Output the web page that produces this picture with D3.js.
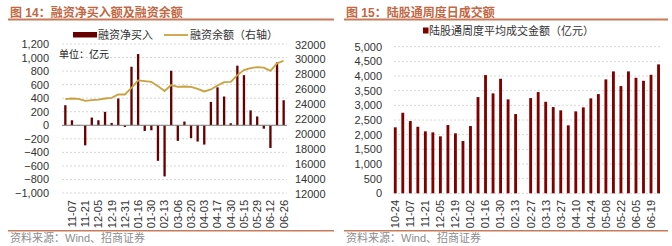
<!DOCTYPE html>
<html>
<head>
<meta charset="utf-8">
<script src="https://cdn.jsdelivr.net/npm/d3@7"></script>
<style>
  body { margin: 0; background: #fff; }
  svg { display: block; font-family: "Liberation Sans", Arial, "Noto Sans CJK SC", sans-serif; }
</style>
</head>
<body>
<svg id="chart" width="672" height="246"></svg>
<script>
// left: weekly margin financing
const weeksL = ['10-31', '11-07', '11-14', '11-21', '11-28', '12-05', '12-12', '12-19', '12-26', '12-31',
    '01-09', '01-16', '01-23', '01-30', '02-06', '02-13', '02-27', '03-06', '03-13', '03-20',
    '03-27', '04-03', '04-10', '04-17', '04-24', '04-30', '05-08', '05-15', '05-22', '05-29',
    '06-05', '06-12', '06-19', '06-26'];
const netBuy = [296, 74, 5, -296, 114, 74, 198, 35, 395, -25,
    864, 1052, -84, -74, -525, -755, 805, -230, 55, -190,
    -240, -285, 345, 560, 425, 30, 880, 740, 220, 130,
    -50, -335, 930, 370];
const balance = [24660, 24750, 24700, 24430, 24520, 24610, 24750, 24840, 25290, 25290,
    26180, 27180, 27090, 26990, 26410, 25760, 26550, 26320, 26360, 26320,
    26050, 25700, 25970, 26500, 26950, 26990, 27890, 28570, 28840, 28970,
    28900, 28470, 29470, 29820];
const leftTicks = [-1000, -800, -600, -400, -200, 0, 200, 400, 600, 800, 1000, 1200];
const rightTicks = [12000, 14000, 16000, 18000, 20000, 22000, 24000, 26000, 28000, 30000, 32000];

// right: weekly northbound turnover (02-20 has no data)
const weeksR = ['10-24', '10-31', '11-07', '11-14', '11-21', '11-28', '12-05', '12-12', '12-19', '12-26',
    '01-02', '01-09', '01-16', '01-23', '01-30', '02-06', '02-13', '02-20', '02-27', '03-06',
    '03-13', '03-20', '03-27', '04-03', '04-10', '04-17', '04-24', '05-01', '05-08', '05-15',
    '05-22', '05-29', '06-05', '06-12', '06-19', '06-26'];
const turnover = [2250, 2747, 2464, 2270, 2113, 2079, 1943, 2328, 2045, 1783,
    2294, 3282, 4032, 3408, 3906, 3204, 2703, null, 3248, 3453,
    3122, 2941, 2829, 2318, 2795, 2931, 3238, 3385, 3885, 4158,
    3657, 4158, 3940, 3838, 4043, 4397];
const turnoverTicks = [0, 500, 1000, 1500, 2000, 2500, 3000, 3500, 4000, 4500, 5000];

const accent = '#c4663f';
const ruleColor = '#c97a5a';
const textColor = '#333';

const svg = d3.select('#chart');

function frame(x0, x1, title, source) {
    svg.append('text')
        .attr('x', x0 + 2).attr('y', 17)
        .attr('font-size', 12).attr('font-weight', 'bold')
        .attr('fill', accent)
        .text(title);
    svg.append('rect')
        .attr('x', x0).attr('y', 18.5)
        .attr('width', x1 - x0).attr('height', 2)
        .attr('fill', ruleColor);
    svg.append('rect')
        .attr('x', x0).attr('y', 230)
        .attr('width', x1 - x0).attr('height', 1.5)
        .attr('fill', ruleColor);
    svg.append('text')
        .attr('x', x0 + 2).attr('y', 242)
        .attr('font-size', 11)
        .attr('fill', '#8c8c8c')
        .text(source);
}

function grid(g, y, ticks, x0, x1) {
    g.selectAll('line.grid')
        .data(ticks)
        .join('line')
        .attr('class', 'grid')
        .attr('x1', x0).attr('x2', x1)
        .attr('y1', d => y(d)).attr('y2', d => y(d))
        .attr('stroke', '#d6d6d6')
        .attr('stroke-dasharray', '2,2');
}

function styleAxis(g) {
    g.select('.domain').remove();
    g.selectAll('text').attr('fill', textColor).attr('font-size', 11)
        .attr('font-family', '"Liberation Sans", Arial, sans-serif');
}

function xLabels(g, x, labels) {
    g.attr('transform', 'translate(0,200)')
        .call(d3.axisBottom(x).tickValues(labels).tickSize(0))
        .call(styleAxis);
    g.selectAll('text')
        .attr('transform', 'rotate(-90)')
        .attr('text-anchor', 'end')
        .attr('x', 0).attr('y', 0)
        .attr('dy', '0.35em');
}

// ---------- left chart ----------
frame(8, 334, '图 14：融资净买入额及融资余额', '资料来源：Wind、招商证券');

const xL = d3.scaleBand().domain(weeksL).range([62, 287]).paddingInner(0.65).paddingOuter(0.33);
const yL = d3.scaleLinear().domain([-1000, 1200]).range([193, 44]);
const yR = d3.scaleLinear().domain([12000, 32000]).range([193.5, 44.5]);

const left = svg.append('g');
grid(left, yL, leftTicks.filter(d => d !== 0), 62, 287);

left.append('g')
    .attr('transform', 'translate(49,0)')
    .call(d3.axisLeft(yL).tickValues(leftTicks).tickSize(0).tickPadding(0).tickFormat(d3.format(',')))
    .call(styleAxis);

left.append('g')
    .attr('transform', 'translate(295,0)')
    .call(d3.axisRight(yR).tickValues(rightTicks).tickSize(0).tickPadding(0).tickFormat(d3.format('d')))
    .call(styleAxis);

left.selectAll('rect.bar')
    .data(weeksL)
    .join('rect')
    .attr('class', 'bar')
    .attr('x', d => xL(d))
    .attr('width', xL.bandwidth())
    .attr('y', (d, i) => yL(Math.max(0, netBuy[i])))
    .attr('height', (d, i) => Math.abs(yL(netBuy[i]) - yL(0)))
    .attr('fill', '#660000');

left.append('line')
    .attr('x1', 62).attr('x2', 287)
    .attr('y1', yL(0)).attr('y2', yL(0))
    .attr('stroke', '#7a7a7a');

left.append('path')
    .datum(weeksL)
    .attr('d', d3.line().x(d => xL(d) + xL.bandwidth() / 2).y((d, i) => yR(balance[i])))
    .attr('fill', 'none')
    .attr('stroke', '#c9a13f')
    .attr('stroke-width', 1.8);

xLabels(left.append('g'), xL, weeksL.filter((d, i) => i % 2 === 1));

left.append('text')
    .attr('x', 59).attr('y', 58)
    .attr('font-size', 10).attr('fill', '#222')
    .text('单位：亿元');

left.append('rect').attr('x', 73).attr('y', 32).attr('width', 24).attr('height', 5.5).attr('fill', '#660000');
left.append('text').attr('x', 98).attr('y', 38.5).attr('font-size', 11).attr('fill', textColor).text('融资净买入');
left.append('line').attr('x1', 164).attr('x2', 188).attr('y1', 35).attr('y2', 35)
    .attr('stroke', '#c9a13f').attr('stroke-width', 1.8);
left.append('text').attr('x', 190).attr('y', 38.5).attr('font-size', 11).attr('fill', textColor).text('融资余额（右轴）');

// ---------- right chart ----------
frame(344, 668, '图 15：陆股通周度日成交额', '资料来源：Wind、招商证券');

const xR = d3.scaleBand().domain(weeksR).range([391.5, 662.3]).paddingInner(0.62).paddingOuter(0.31);
const yT = d3.scaleLinear().domain([0, 5000]).range([193.3, 46.7]);

const right = svg.append('g');
grid(right, yT, turnoverTicks, 394, 660);

right.append('g')
    .attr('transform', 'translate(382,0)')
    .call(d3.axisLeft(yT).tickValues(turnoverTicks).tickSize(0).tickPadding(0).tickFormat(d3.format(',')))
    .call(styleAxis);

right.selectAll('rect.bar')
    .data(weeksR.filter((d, i) => turnover[i] !== null))
    .join('rect')
    .attr('class', 'bar')
    .attr('x', d => xR(d))
    .attr('width', xR.bandwidth())
    .attr('y', d => yT(turnover[weeksR.indexOf(d)]))
    .attr('height', d => yT(0) - yT(turnover[weeksR.indexOf(d)]))
    .attr('fill', '#800000');

xLabels(right.append('g'), xR, weeksR.filter((d, i) => i % 2 === 0 && i < 35));

right.append('rect').attr('x', 423).attr('y', 27.5).attr('width', 5.5).attr('height', 6).attr('fill', '#800000');
right.append('text').attr('x', 429).attr('y', 34.5).attr('font-size', 11).attr('fill', textColor)
    .text('陆股通周度平均成交金额（亿元）');
</script>
</body>
</html>
